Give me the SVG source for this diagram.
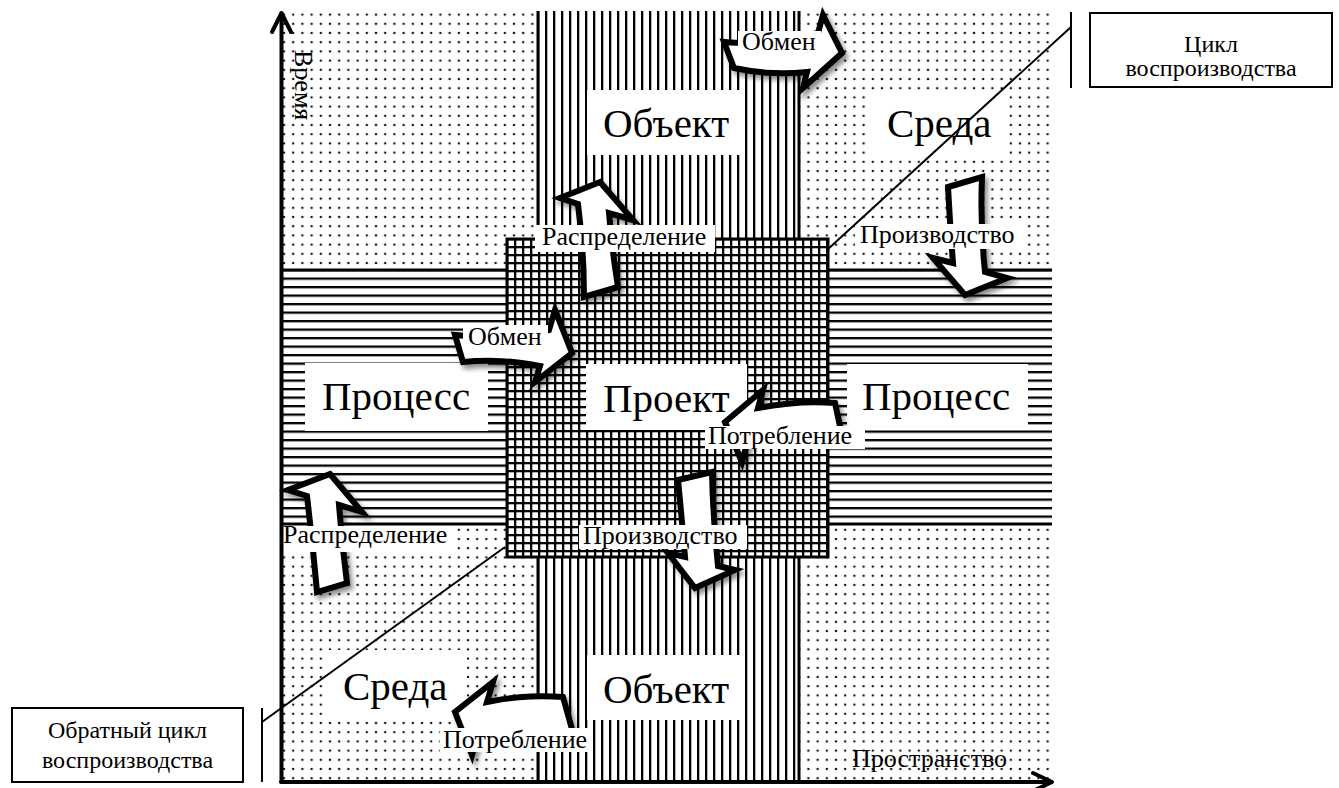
<svg xmlns="http://www.w3.org/2000/svg" width="1339" height="788" viewBox="0 0 1339 788" font-family="'Liberation Serif', 'Times New Roman', 'DejaVu Serif', serif">
  <style>
    text { font-family: 'Liberation Serif', 'Times New Roman', 'DejaVu Serif', serif; fill: #000; }
    .big { font-size: 41px; }
    .lbl { font-size: 26px; }
    .box { font-size: 24px; text-anchor: middle; }
    .white { fill: #fff; stroke: none; }
    .edge { stroke: #000; stroke-width: 3; fill: none; }
    .thin { stroke: #000; stroke-width: 2; fill: none; }
    .axis { stroke: #000; stroke-width: 4; fill: none; stroke-linecap: round; stroke-linejoin: round; }
    .arrow { fill: #fff; stroke: #000; stroke-width: 6; stroke-linejoin: miter; stroke-miterlimit: 6; filter: url(#shadow); }
  </style>
  <defs>
    <pattern id="dots" patternUnits="userSpaceOnUse" x="288.6" y="10" width="9.2" height="9.2">
      <circle cx="4.6" cy="4.6" r="1.25" fill="#111"/>
    </pattern>
    <pattern id="vlines" patternUnits="userSpaceOnUse" x="537" y="0" width="8" height="10">
      <rect x="0" y="0" width="2.3" height="10" fill="#000"/>
    </pattern>
    <pattern id="hlines" patternUnits="userSpaceOnUse" x="0" y="269" width="10" height="8.5">
      <rect x="0" y="0" width="10" height="2.3" fill="#000"/>
    </pattern>
    <pattern id="vgrid" patternUnits="userSpaceOnUse" x="506" y="0" width="8" height="10">
      <rect x="0" y="0" width="2.3" height="10" fill="#000"/>
    </pattern>
    <pattern id="hgrid" patternUnits="userSpaceOnUse" x="0" y="238" width="10" height="8">
      <rect x="0" y="0" width="10" height="2.3" fill="#000"/>
    </pattern>
    <filter id="shadow" x="-30%" y="-30%" width="160%" height="160%">
      <feDropShadow dx="3" dy="4" stdDeviation="2.5" flood-color="#000" flood-opacity="0.45"/>
    </filter>
  </defs>

  <rect width="1339" height="788" fill="#fff"/>

  <!-- dotted field -->
  <g id="field">
    <rect x="283" y="11" width="769" height="770" fill="url(#dots)"/>
  </g>

  <!-- vertical band -->
  <g id="band-vertical">
    <rect x="537" y="11" width="262" height="770" class="white"/>
    <rect x="537" y="11" width="262" height="770" fill="url(#vlines)"/>
    <line x1="538" y1="11" x2="538" y2="781" class="edge"/>
    <line x1="799" y1="11" x2="799" y2="781" class="edge"/>
  </g>

  <!-- horizontal band -->
  <g id="band-horizontal">
    <rect x="283" y="269" width="769" height="256" class="white"/>
    <rect x="283" y="269" width="769" height="256" fill="url(#hlines)"/>
    <line x1="283" y1="270" x2="1052" y2="270" class="edge"/>
    <line x1="283" y1="524" x2="1052" y2="524" class="edge"/>
  </g>

  <!-- central square -->
  <g id="project-square">
    <rect x="507" y="239" width="321" height="318" class="white"/>
    <rect x="507" y="239" width="321" height="318" fill="url(#vgrid)"/>
    <rect x="507" y="239" width="321" height="318" fill="url(#hgrid)"/>
    <rect x="507" y="239" width="321" height="318" class="edge"/>
  </g>

  <!-- large labels -->
  <g id="node-object-top">
    <rect x="587" y="90" width="156" height="65" class="white"/>
    <text x="603" y="137" class="big">Объект</text>
  </g>
  <g id="node-env-top">
    <rect x="867" y="90" width="140" height="65" class="white"/>
    <text x="887" y="137" class="big">Среда</text>
  </g>
  <g id="node-process-left">
    <rect x="305" y="363" width="183" height="68" class="white"/>
    <text x="322" y="410" class="big">Процесс</text>
  </g>
  <g id="node-project">
    <rect x="586" y="364" width="161" height="66" class="white"/>
    <text x="603" y="412" class="big">Проект</text>
  </g>
  <g id="node-process-right">
    <rect x="847" y="364" width="181" height="66" class="white"/>
    <text x="862" y="410" class="big">Процесс</text>
  </g>
  <g id="node-env-bottom">
    <rect x="327" y="650" width="140" height="71" class="white"/>
    <text x="343" y="700" class="big">Среда</text>
  </g>
  <g id="node-object-bottom">
    <rect x="587" y="655" width="156" height="65" class="white"/>
    <text x="603" y="703" class="big">Объект</text>
  </g>

  <!-- block arrows -->
  <g id="connectors">
    <path id="arrow-exchange-top" class="arrow" d="M724,42 Q770,46 818,33 L823,15 L842,53 L803,88 L807,72 Q770,76 734,68 Z"/>
    <path id="arrow-distribution-top" class="arrow" d="M600,182 L633,220 L609,213 Q612,250 618,287 L584,297 Q584,250 578,204 L560,198 Z"/>
    <path id="arrow-production-top" class="arrow" d="M948,187 L982,177 Q980,225 985,272 L1007,278 L965,295 L933,258 L953,263 Q950,225 948,187 Z"/>
    <path id="arrow-exchange-mid" class="arrow" d="M455,335 Q500,340 549,330 L555,310 L572,353 L535,382 L540,366 Q500,358 463,362 Z"/>
    <path id="arrow-consumption-mid" class="arrow" d="M835,403 L843,440 Q800,436 748,440 L742,462 L725,422 L763,390 L758,408 Q800,400 835,403 Z"/>
    <path id="arrow-production-mid" class="arrow" d="M678,480 L712,472 Q713,520 718,566 L735,570 L695,588 L668,553 L685,557 Q682,520 678,480 Z"/>
    <path id="arrow-distribution-low" class="arrow" d="M330,474 L362,512 L339,505 Q342,545 347,583 L317,592 Q313,545 307,496 L288,490 Z"/>
    <path id="arrow-consumption-low" class="arrow" d="M563,697 L575,740 Q530,736 476,740 L472,755 L455,712 L493,682 L487,702 Q525,694 563,697 Z"/>
  </g>

  <!-- arrow labels -->
  <g id="label-exchange-top">
    <rect x="738" y="31" width="83" height="24" class="white"/>
    <text x="742" y="50" class="lbl">Обмен</text>
  </g>
  <g id="label-distribution-top">
    <rect x="535" y="225" width="180" height="27" class="white"/>
    <text x="542" y="245" class="lbl">Распределение</text>
  </g>
  <g id="label-production-top">
    <rect x="855" y="224" width="168" height="25" class="white"/>
    <text x="860" y="243" class="lbl">Производство</text>
  </g>
  <g id="label-exchange-mid">
    <rect x="463" y="325" width="85" height="25" class="white"/>
    <text x="468" y="345" class="lbl">Обмен</text>
  </g>
  <g id="label-consumption-mid">
    <rect x="705" y="426" width="160" height="23" class="white"/>
    <text x="708" y="444" class="lbl">Потребление</text>
  </g>
  <g id="label-production-mid">
    <rect x="579" y="525" width="168" height="24" class="white"/>
    <text x="583" y="544" class="lbl">Производство</text>
  </g>
  <g id="label-distribution-low">
    <rect x="281" y="526" width="176" height="26" class="white"/>
    <text x="283" y="543" class="lbl">Распределение</text>
  </g>
  <g id="label-consumption-low">
    <rect x="440" y="728" width="152" height="24" class="white"/>
    <text x="443" y="748" class="lbl">Потребление</text>
  </g>

  <!-- cycle diagonals and brackets -->
  <g id="cycle-lines">
    <line x1="1071" y1="27" x2="827" y2="250" class="thin"/>
    <line x1="1071" y1="12" x2="1071" y2="88" class="thin"/>
    <line x1="262" y1="722" x2="505" y2="547" class="thin"/>
    <line x1="262" y1="708" x2="262" y2="782" class="thin"/>
  </g>

  <!-- axes -->
  <g id="axes">
    <line x1="281.5" y1="16" x2="281.5" y2="782" class="axis"/>
    <polyline points="272,32 281.5,13 291,32" class="axis"/>
    <line x1="281" y1="782" x2="1050" y2="782" class="axis"/>
    <polyline points="1033,773 1052,782 1033,791" class="axis"/>
    <text x="0" y="0" class="lbl" transform="translate(295,50) rotate(90)">Время</text>
    <text x="852" y="767" class="lbl">Пространство</text>
  </g>

  <!-- legend boxes -->
  <g id="legend-cycle">
    <rect x="1090" y="13" width="242" height="74" fill="#fff" class="thin"/>
    <text x="1211" y="52" class="box">Цикл</text>
    <text x="1211" y="76" class="box">воспроизводства</text>
  </g>
  <g id="legend-reverse-cycle">
    <rect x="12" y="708" width="231" height="74" fill="#fff" class="thin"/>
    <text x="127.5" y="738" class="box">Обратный цикл</text>
    <text x="127.5" y="768" class="box">воспроизводства</text>
  </g>
</svg>
